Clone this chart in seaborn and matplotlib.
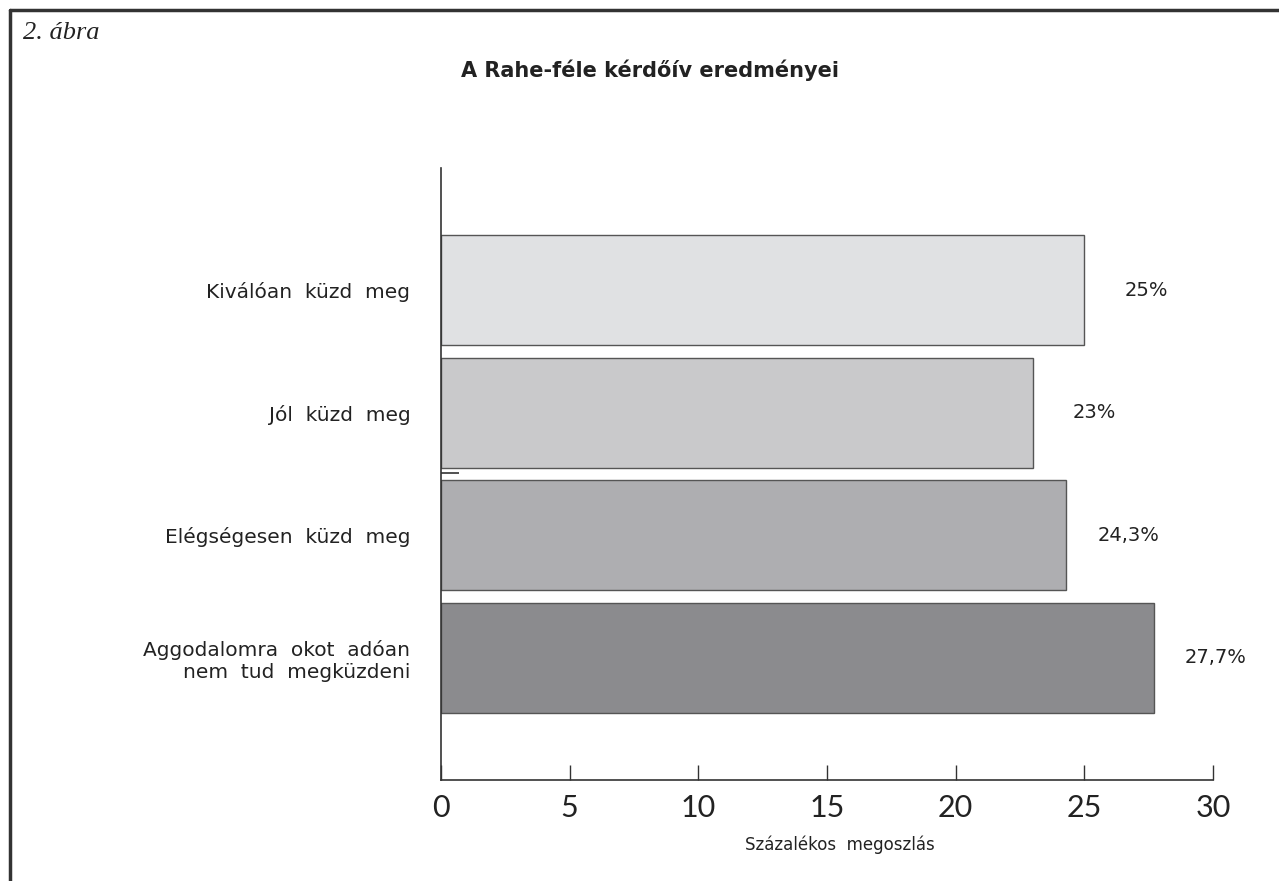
import matplotlib
matplotlib.use("Agg")
import matplotlib.pyplot as plt
from matplotlib.lines import Line2D
import seaborn as sns
import pandas as pd

categories = [
    "Kiválóan  küzd  meg",
    "Jól  küzd  meg",
    "Elégségesen  küzd  meg",
    "Aggodalomra  okot  adóan\nnem  tud  megküzdeni",
]
values = [25.0, 23.0, 24.3, 27.7]
value_labels = ["25%", "23%", "24,3%", "27,7%"]
bar_colors = ["#e0e1e3", "#c9c9cb", "#aeaeb1", "#8b8b8e"]
x_ticks = [0, 5, 10, 15, 20, 25, 30]

sns.set_theme(style="white")
plt.rcParams["font.family"] = ["DejaVu Sans"]

df = pd.DataFrame({"kategoria": categories, "ertek": values})

W, H = 1279, 881
fig = plt.figure(figsize=(W / 100, H / 100), dpi=100)
ax = fig.add_axes([441 / W, 1 - 780 / H, (1213 - 441) / W, (780 - 168) / H])

sns.barplot(data=df, x="ertek", y="kategoria", hue="kategoria",
            palette=bar_colors, legend=False, orient="h", width=0.9,
            edgecolor="#555555", linewidth=1.0, saturation=1, ax=ax)

ax.set_xlim(0, 30)
ax.set_ylim(4.0, -1.0)
ax.set_xticks(x_ticks)
ax.set_xticklabels([str(t) for t in x_ticks], fontsize=22, color="#222222",
                   family="Lato")
ax.tick_params(axis="x", direction="in", length=11, width=1.0,
               color="#333333", pad=10, bottom=True)
ax.tick_params(axis="y", length=0, pad=22, labelsize=14.5, labelcolor="#222222")
ax.set_ylabel("")
ax.set_xlabel("Százalékos  megoszlás", fontsize=12, color="#222222", labelpad=10)
ax.xaxis.label.set_x(0.517)

for side in ["top", "right"]:
    ax.spines[side].set_visible(False)
for side in ["left", "bottom"]:
    ax.spines[side].set_color("#333333")
    ax.spines[side].set_linewidth(1.2)

# value labels to the right of each bar
for i, (v, lab) in enumerate(zip(values, value_labels)):
    ax.text(v + 2.4, i, lab, ha="center", va="center", fontsize=14,
            color="#222222")

# short stray rule between the second and third bars
ax.hlines(1.49, 0, 0.7, color="#333333", linewidth=1.2)

# frame around the figure (left and top edges)
fig.add_artist(Line2D([10 / W, 10 / W], [0, 1 - 10 / H], transform=fig.transFigure,
                      color="#333333", linewidth=2.5))
fig.add_artist(Line2D([10 / W, 1], [1 - 10 / H, 1 - 10 / H], transform=fig.transFigure,
                      color="#333333", linewidth=2.5))

fig.text(23 / W, 1 - 33 / H, "2. ábra", family="Liberation Serif", style="italic",
         fontsize=19, color="#222222", ha="left", va="center")
fig.text(650 / W, 1 - 70 / H, "A Rahe-féle kérdőív eredményei", fontsize=15,
         fontweight="bold", color="#222222", ha="center", va="center")

fig.savefig("out.png", dpi=100)
